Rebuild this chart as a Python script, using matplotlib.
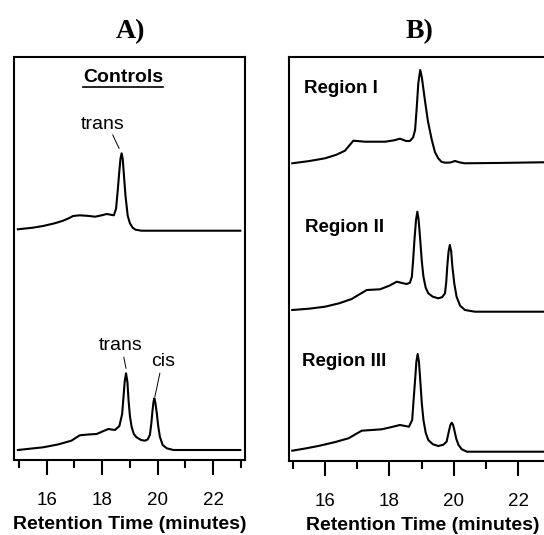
import matplotlib

matplotlib.use('Agg')

import matplotlib.pyplot as plt
from matplotlib.ticker import MultipleLocator

plt.rcParams['font.family'] = ['Liberation Sans', 'DejaVu Sans']

# chromatogram traces: retention time (min) and signal above each trace's own baseline
ctrl_t = [14.96, 15.5, 15.87, 16.3, 16.59, 16.8, 16.95, 17.19, 17.5, 17.74, 18.0, 18.16,
          18.30, 18.42, 18.50, 18.56, 18.61, 18.66, 18.70, 18.74, 18.78, 18.84, 18.92,
          19.00, 19.10, 19.20, 19.42, 22.98]
ctrl_y = [1.4, 3, 4.7, 7.5, 10, 12.5, 14.7, 15.4, 14.8, 14, 15.5, 16.7,
          16, 15.4, 22, 40, 57, 72, 77.4, 72, 57, 35, 15,
          7.4, 3, 1, 0, 0]

mix_t = [14.96, 15.87, 16.4, 16.89, 17.19, 17.5, 17.80, 18.05, 18.22, 18.46, 18.62, 18.72,
         18.76, 18.81, 18.86, 18.91, 18.95, 19.00, 19.06, 19.14, 19.24, 19.40, 19.54,
         19.64, 19.72, 19.77, 19.81, 19.85, 19.88, 19.92, 19.97, 20.02, 20.08, 20.18,
         20.33, 20.57, 22.98]
mix_y = [0, 2.7, 5.5, 9.3, 14.7, 15.5, 16, 19, 21, 20, 24, 36,
         50, 68, 76.7, 68, 50, 34, 23.3, 16, 12.7, 10, 9.3,
         10.5, 15, 26, 38, 48, 51.7, 47, 36.7, 24, 13.3, 5,
         1.7, 0, 0]

reg1_t = [14.98, 15.5, 16.0, 16.35, 16.62, 16.88, 17.24, 17.87, 18.15, 18.33, 18.52,
          18.64, 18.74, 18.80, 18.85, 18.90, 18.96, 19.01, 19.06, 19.11, 19.20, 19.32,
          19.42, 19.52, 19.62, 19.73, 19.90, 20.04, 20.2, 20.35, 21.5, 22.74, 23.2]
reg1_y = [0, 2.2, 5, 8.5, 12.6, 22.6, 21.6, 21.6, 23, 24.6, 22.3,
          22.3, 26, 33.3, 55, 80, 93.3, 86, 74, 62, 42, 23.3,
          11, 5, 1.5, 0.6, 0.8, 2.3, 0.8, 0, 0.4, 1, 0.5]

reg2_t = [14.98, 15.5, 16.0, 16.45, 16.83, 17.05, 17.30, 17.71, 18.00, 18.23, 18.42,
          18.54, 18.64, 18.70, 18.74, 18.78, 18.83, 18.87, 18.91, 18.96, 19.01, 19.06,
          19.13, 19.21, 19.35, 19.52, 19.64, 19.73, 19.77, 19.80, 19.84, 19.88, 19.92,
          19.96, 20.02, 20.09, 20.20, 20.35, 20.66, 23.2]
reg2_y = [1.7, 3, 5, 8.5, 12.7, 17, 21.7, 22.4, 26, 30, 28.5,
          27.7, 29, 35, 52, 71.7, 92, 100, 92, 71.7, 50, 35,
          24, 18.4, 15, 13.4, 14.5, 18.4, 30, 45, 60, 66.7, 61,
          45, 28, 15, 6, 1.7, 0, 0]

reg3_t = [14.98, 15.4, 15.79, 16.3, 16.73, 17.14, 17.5, 17.76, 18.05, 18.33, 18.61,
          18.71, 18.75, 18.80, 18.84, 18.88, 18.92, 18.96, 19.01, 19.06, 19.13, 19.21,
          19.35, 19.52, 19.68, 19.78, 19.86, 19.90, 19.94, 19.98, 20.02, 20.08, 20.15,
          20.25, 20.41, 23.2]
reg3_y = [1, 3.3, 5.7, 9.5, 13.4, 21, 21.8, 22.4, 24.5, 26.7, 25,
          31.7, 50, 71.7, 90, 97.7, 90, 71.7, 48, 31.7, 19, 11.7,
          7.5, 5.7, 7, 10, 21.7, 27, 29, 27, 21.7, 13, 6.7,
          2.5, 0, 0]

region_names = ['Region I', 'Region II', 'Region III']

W, H = 544, 535
fig = plt.figure(figsize=(W / 100, H / 100), dpi=100)

ax_a = fig.add_axes([14 / W, (H - 460) / H, 231 / W, 403 / H])
ax_b = fig.add_axes([289 / W, (H - 461) / H, 267.6 / W, 404 / H])


def style_axis(ax, xlim, ylim):
    ax.set_xlim(*xlim)
    ax.set_ylim(*ylim)
    ax.set_yticks([])
    ax.xaxis.set_major_locator(MultipleLocator(2))
    ax.xaxis.set_minor_locator(MultipleLocator(1))
    ax.tick_params(axis='x', which='major', direction='out', length=11, width=1.5,
                   pad=12, labelsize=13.5)
    ax.tick_params(axis='x', which='minor', direction='out', length=5.5, width=1.5)
    for sp in ax.spines.values():
        sp.set_linewidth(1.5)
    ax.set_xlabel('Retention Time (minutes)', fontsize=14, fontweight='bold', labelpad=5)


style_axis(ax_a, (14.82, 23.15), (0, 403))
style_axis(ax_b, (14.88, 23.2), (0, 404))

lw = 1.5
ax_a.plot(ctrl_t, [229.3 + v for v in ctrl_y], color='black', lw=lw)
ax_a.plot(mix_t, [10 + v for v in mix_y], color='black', lw=lw)

ax_b.plot(reg1_t, [297.7 + v for v in reg1_y], color='black', lw=lw)
ax_b.plot(reg2_t, [149.3 + v for v in reg2_y], color='black', lw=lw)
ax_b.plot(reg3_t, [9.3 + v for v in reg3_y], color='black', lw=lw)

# peak labels
ax_a.text(18.02, 335, 'trans', fontsize=14, ha='center', va='center')
ax_a.plot([18.38, 18.61], [325, 311.7], color='black', lw=0.7)
ax_a.text(18.68, 115, 'trans', fontsize=14, ha='center', va='center')
ax_a.plot([18.78, 18.86], [102.7, 91.7], color='black', lw=0.7)
ax_a.text(20.20, 98.3, 'cis', fontsize=14, ha='center', va='center')
ax_a.plot([20.08, 19.90], [86.7, 63.3], color='black', lw=0.7)

ax_a.text(0.472, 0.948, 'Controls', transform=ax_a.transAxes, fontsize=14,
          fontweight='bold', ha='center', va='center')
ax_a.plot([0.299, 0.645], [0.9256, 0.9256], transform=ax_a.transAxes, color='black', lw=1.2)

for name, (tx, ty) in zip(region_names, [(15.35, 373), (15.38, 234), (15.29, 99)]):
    ax_b.text(tx, ty, name, fontsize=13.5, fontweight='bold', ha='left', va='center')

fig.text(130 / W, 1 - 32 / H, 'A)', fontsize=20, fontweight='bold',
         family='Liberation Serif', ha='center', va='center')
fig.text(419 / W, 1 - 32 / H, 'B)', fontsize=20, fontweight='bold',
         family='Liberation Serif', ha='center', va='center')

fig.savefig('out.png', dpi=100)
